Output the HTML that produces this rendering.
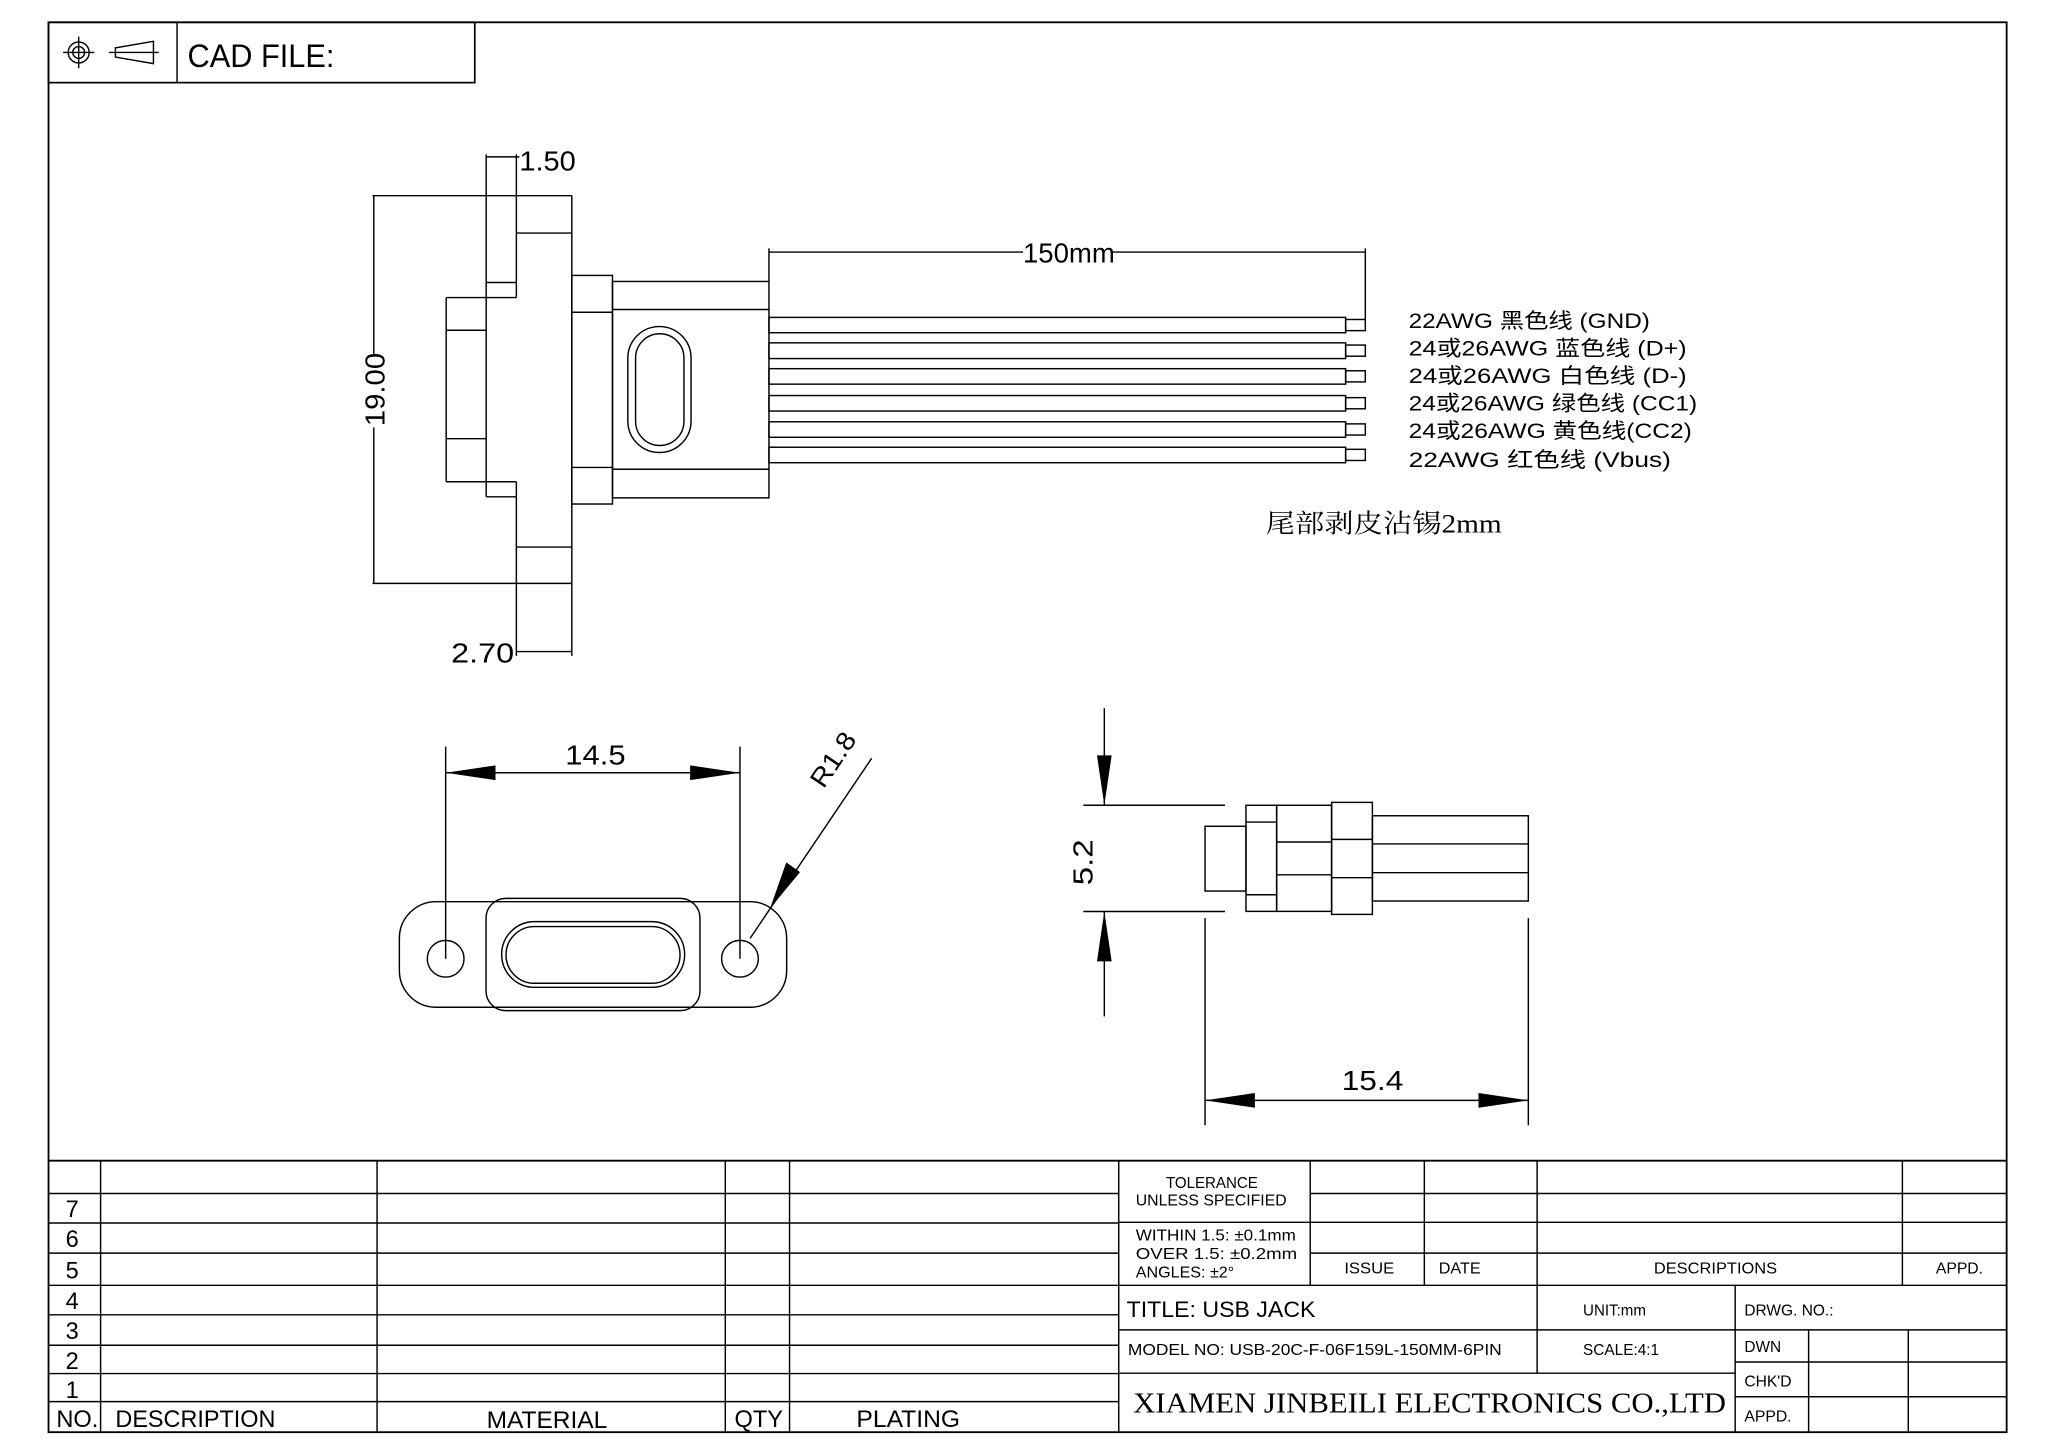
<!DOCTYPE html>
<html><head><meta charset="utf-8"><style>
html,body{margin:0;padding:0;background:#fff;}
svg{display:block;}
text{font-family:"Liberation Sans","Noto Sans CJK SC",sans-serif;fill:#000;}
</style></head><body>
<svg width="2046" height="1447" viewBox="0 0 1560 1103.3" preserveAspectRatio="none" xmlns="http://www.w3.org/2000/svg">
<g fill="none" stroke="#000" stroke-width="1.1">
<!-- border -->
<rect x="37" y="17" width="1493" height="1075" stroke-width="1.4"/>
<rect x="37" y="17" width="325" height="46" stroke-width="1.3"/>
<line x1="135" y1="17" x2="135" y2="63"/>
<!-- icons -->
<circle cx="60" cy="40" r="8"/><circle cx="60" cy="40" r="4.5"/>
<line x1="48" y1="40" x2="72" y2="40"/><line x1="60" y1="28" x2="60" y2="52"/>
<polygon points="88,36.5 117,31.5 117,48.5 88,43.5"/>
<line x1="83" y1="40" x2="121" y2="40"/>

<!-- side view flange -->
<line x1="284" y1="149.2" x2="436" y2="149.2"/>
<line x1="284" y1="444.8" x2="436" y2="444.8"/>
<line x1="436" y1="149.2" x2="436" y2="500.1"/>
<line x1="370.7" y1="117.7" x2="370.7" y2="378.8"/>
<line x1="393.7" y1="117.7" x2="393.7" y2="226.9"/>
<line x1="393.7" y1="367.3" x2="393.7" y2="500.1"/>
<line x1="370.7" y1="119.6" x2="396" y2="119.6"/>
<line x1="393.7" y1="177.7" x2="436" y2="177.7"/>
<line x1="370.7" y1="215.4" x2="393.7" y2="215.4"/>
<line x1="340.2" y1="226.9" x2="393.7" y2="226.9"/>
<line x1="340.2" y1="251.8" x2="370.7" y2="251.8"/>
<line x1="340.2" y1="334.5" x2="370.7" y2="334.5"/>
<line x1="340.2" y1="367.3" x2="393.7" y2="367.3"/>
<line x1="370.7" y1="378.8" x2="393.7" y2="378.8"/>
<line x1="393.7" y1="417.1" x2="436" y2="417.1"/>
<line x1="393.7" y1="496.8" x2="436" y2="496.8"/>
<line x1="340.2" y1="226.9" x2="340.2" y2="367.3"/>
<line x1="285" y1="149.2" x2="285" y2="270"/>
<line x1="285" y1="326" x2="285" y2="444.8"/>
<!-- blocks -->
<rect x="436" y="210" width="31" height="174.3"/>
<line x1="436" y1="238.1" x2="467" y2="238.1"/>
<line x1="436" y1="356.4" x2="467" y2="356.4"/>
<rect x="467" y="214.6" width="119.3" height="165"/>
<line x1="467" y1="236" x2="586.3" y2="236"/>
<line x1="467" y1="357.8" x2="586.3" y2="357.8"/>
<rect x="478.7" y="249" width="48.2" height="96" rx="24"/>
<rect x="484.6" y="254.5" width="36.9" height="85.2" rx="18.5"/>
<!-- wires -->
<rect x="586.3" y="242" width="439.7" height="11.7"/><rect x="1026" y="243.6" width="15" height="8.5"/>
<rect x="586.3" y="261.4" width="439.7" height="12"/><rect x="1026" y="263.1" width="15" height="8.5"/>
<rect x="586.3" y="281.1" width="439.7" height="11.8"/><rect x="1026" y="282.7" width="15" height="8.5"/>
<rect x="586.3" y="301.6" width="439.7" height="11.8"/><rect x="1026" y="303.2" width="15" height="8.5"/>
<rect x="586.3" y="321.6" width="439.7" height="11.8"/><rect x="1026" y="323.2" width="15" height="8.5"/>
<rect x="586.3" y="341" width="439.7" height="11.8"/><rect x="1026" y="342.6" width="15" height="8.5"/>
<!-- 150mm dim -->
<line x1="586.3" y1="192.2" x2="780" y2="192.2"/>
<line x1="848" y1="192.2" x2="1041" y2="192.2"/>
<line x1="586.3" y1="189.4" x2="586.3" y2="214.6"/>
<line x1="1041" y1="189.4" x2="1041" y2="245"/>

<!-- front view -->
<rect x="304.5" y="687.5" width="295.3" height="80.5" rx="28" fill="#fff"/>
<circle cx="339.8" cy="731" r="14"/><circle cx="564.2" cy="731" r="14"/>
<rect x="370.6" y="685" width="163.1" height="85.6" rx="15"/>
<rect x="382.5" y="702.7" width="139.5" height="50.1" rx="25"/>
<rect x="385.8" y="706.5" width="132.7" height="43.2" rx="21.6"/>
<line x1="339.8" y1="569.3" x2="339.8" y2="731"/>
<line x1="564.2" y1="569.3" x2="564.2" y2="731"/>
<line x1="339.8" y1="589.2" x2="564.2" y2="589.2"/>
<line x1="664.6" y1="578.2" x2="571.9" y2="715.5"/>

<!-- side small view -->
<rect x="918.8" y="630" width="31.2" height="49.4"/>
<rect x="950" y="614" width="23.4" height="80.9"/>
<line x1="950" y1="626.8" x2="973.4" y2="626.8"/><line x1="950" y1="682.2" x2="973.4" y2="682.2"/>
<rect x="973.4" y="614" width="41.9" height="80.9"/>
<line x1="973.4" y1="642" x2="1015.3" y2="642"/><line x1="973.4" y1="667" x2="1015.3" y2="667"/>
<rect x="1015.3" y="611.8" width="31.1" height="85.4"/>
<line x1="1015.3" y1="640" x2="1046.4" y2="640"/><line x1="1015.3" y1="669.2" x2="1046.4" y2="669.2"/>
<rect x="1046.4" y="622" width="118.9" height="65"/>
<line x1="1046.4" y1="643.5" x2="1165.3" y2="643.5"/><line x1="1046.4" y1="665.4" x2="1165.3" y2="665.4"/>
<!-- 5.2 dim -->
<line x1="826" y1="614" x2="934" y2="614"/>
<line x1="826" y1="695" x2="934" y2="695"/>
<line x1="842" y1="540" x2="842" y2="614"/>
<line x1="842" y1="695" x2="842" y2="775"/>
<!-- 15.4 dim -->
<line x1="918.8" y1="700" x2="918.8" y2="858"/>
<line x1="1165.3" y1="700" x2="1165.3" y2="858"/>
<line x1="918.8" y1="839" x2="1165.3" y2="839"/>

<!-- bottom table -->
<line x1="37" y1="885" x2="1530" y2="885" stroke-width="1.4"/>
<g>
<line x1="37" y1="910" x2="853" y2="910"/>
<line x1="37" y1="932.5" x2="853" y2="932.5"/>
<line x1="37" y1="955.5" x2="853" y2="955.5"/>
<line x1="37" y1="980" x2="853" y2="980"/>
<line x1="37" y1="1002.5" x2="853" y2="1002.5"/>
<line x1="37" y1="1025.7" x2="853" y2="1025.7"/>
<line x1="37" y1="1047.3" x2="853" y2="1047.3"/>
<line x1="37" y1="1068.7" x2="853" y2="1068.7"/>
<line x1="76.7" y1="885" x2="76.7" y2="1092"/>
<line x1="287.5" y1="885" x2="287.5" y2="1092"/>
<line x1="553" y1="885" x2="553" y2="1092"/>
<line x1="602" y1="885" x2="602" y2="1092"/>
<line x1="853" y1="885" x2="853" y2="1092"/>
</g>
<g>
<line x1="999" y1="910" x2="1530" y2="910"/>
<line x1="853" y1="932" x2="1530" y2="932"/>
<line x1="999" y1="955.5" x2="1530" y2="955.5"/>
<line x1="853" y1="980" x2="1530" y2="980"/>
<line x1="853" y1="1014" x2="1530" y2="1014"/>
<line x1="853" y1="1047" x2="1323" y2="1047"/>
<line x1="1323" y1="1038.5" x2="1530" y2="1038.5"/>
<line x1="1323" y1="1065" x2="1530" y2="1065"/>
<line x1="999" y1="885" x2="999" y2="980"/>
<line x1="1086" y1="885" x2="1086" y2="980"/>
<line x1="1172" y1="885" x2="1172" y2="1047"/>
<line x1="1450.5" y1="885" x2="1450.5" y2="980"/>
<line x1="1323" y1="980" x2="1323" y2="1092"/>
<line x1="1379" y1="1014" x2="1379" y2="1092"/>
<line x1="1455" y1="1014" x2="1455" y2="1092"/>
</g>
</g>
<!-- arrowheads -->
<g fill="#000">
<polygon points="339.8,589.2 377.8,583.6 377.8,594.8"/>
<polygon points="564.2,589.2 526.2,583.6 526.2,594.8"/>
<polygon points="587.2,692.5 599.5,657.5 610,665"/>
<polygon points="842,614 836.4,576 847.6,576"/>
<polygon points="842,695 836.4,733 847.6,733"/>
<polygon points="918.8,839 956.8,833.4 956.8,844.6"/>
<polygon points="1165.3,839 1127.3,833.4 1127.3,844.6"/>
</g>

<!-- text -->
<text x="143" y="51" font-size="25" textLength="112" lengthAdjust="spacingAndGlyphs">CAD  FILE:</text>
<text x="396" y="130" font-size="21" textLength="43" lengthAdjust="spacingAndGlyphs">1.50</text>
<text x="780" y="200" font-size="21" textLength="70" lengthAdjust="spacingAndGlyphs">150mm</text>
<text transform="translate(293,297) rotate(-90)" text-anchor="middle" font-size="21" textLength="56" lengthAdjust="spacingAndGlyphs">19.00</text>
<text x="344" y="505" font-size="21" textLength="48" lengthAdjust="spacingAndGlyphs">2.70</text>
<g font-size="16">
<text x="1074" y="250" textLength="184" lengthAdjust="spacingAndGlyphs">22AWG  黑色线 (GND)</text>
<text x="1074" y="271" textLength="212" lengthAdjust="spacingAndGlyphs">24或26AWG  蓝色线 (D+)</text>
<text x="1074" y="292" textLength="212" lengthAdjust="spacingAndGlyphs">24或26AWG  白色线 (D-)</text>
<text x="1074" y="313" textLength="220" lengthAdjust="spacingAndGlyphs">24或26AWG  绿色线 (CC1)</text>
<text x="1074" y="334" textLength="216" lengthAdjust="spacingAndGlyphs">24或26AWG  黄色线(CC2)</text>
<text x="1074" y="356" textLength="200" lengthAdjust="spacingAndGlyphs">22AWG  红色线 (Vbus)</text>
</g>
<text x="965" y="406" font-size="20" style="font-family:'Liberation Serif','Noto Serif CJK SC',serif" textLength="180" lengthAdjust="spacingAndGlyphs">尾部剥皮沾锡2mm</text>
<text x="431" y="583" font-size="21" textLength="46" lengthAdjust="spacingAndGlyphs">14.5</text>
<text transform="translate(628,602) rotate(-56)" font-size="20" textLength="46" lengthAdjust="spacingAndGlyphs">R1.8</text>
<text transform="translate(833,675) rotate(-90)" font-size="21" textLength="35" lengthAdjust="spacingAndGlyphs">5.2</text>
<text x="1023" y="831" font-size="21" textLength="47" lengthAdjust="spacingAndGlyphs">15.4</text>

<g font-size="18">
<text x="50" y="928">7</text><text x="50" y="951">6</text><text x="50" y="975">5</text>
<text x="50" y="998">4</text><text x="50" y="1021">3</text><text x="50" y="1044">2</text><text x="50" y="1066">1</text>
<text x="43" y="1088" textLength="32" lengthAdjust="spacingAndGlyphs">NO.</text>
<text x="88" y="1088" textLength="122" lengthAdjust="spacingAndGlyphs">DESCRIPTION</text>
<text x="371" y="1089" textLength="92" lengthAdjust="spacingAndGlyphs">MATERIAL</text>
<text x="560" y="1088" textLength="37" lengthAdjust="spacingAndGlyphs">QTY</text>
<text x="653" y="1088" textLength="79" lengthAdjust="spacingAndGlyphs">PLATING</text>
</g>
<g font-size="12">
<text x="889" y="906" textLength="70" lengthAdjust="spacingAndGlyphs">TOLERANCE</text>
<text x="866" y="919" textLength="115" lengthAdjust="spacingAndGlyphs">UNLESS  SPECIFIED</text>
<text x="866" y="946" textLength="122" lengthAdjust="spacingAndGlyphs">WITHIN  1.5: ±0.1mm</text>
<text x="866" y="960" textLength="123" lengthAdjust="spacingAndGlyphs">OVER  1.5:   ±0.2mm</text>
<text x="866" y="974" textLength="75" lengthAdjust="spacingAndGlyphs">ANGLES: ±2°</text>
<text x="1025" y="971" textLength="38" lengthAdjust="spacingAndGlyphs">ISSUE</text>
<text x="1097" y="971" textLength="32" lengthAdjust="spacingAndGlyphs">DATE</text>
<text x="1261" y="971" textLength="94" lengthAdjust="spacingAndGlyphs">DESCRIPTIONS</text>
<text x="1476" y="971" textLength="36" lengthAdjust="spacingAndGlyphs">APPD.</text>
<text x="1207" y="1003" textLength="48" lengthAdjust="spacingAndGlyphs">UNIT:mm</text>
<text x="1330" y="1003" textLength="68" lengthAdjust="spacingAndGlyphs">DRWG. NO.:</text>
<text x="860" y="1033" textLength="285" lengthAdjust="spacingAndGlyphs">MODEL NO: USB-20C-F-06F159L-150MM-6PIN</text>
<text x="1207" y="1033" textLength="58" lengthAdjust="spacingAndGlyphs">SCALE:4:1</text>
<text x="1330" y="1031" textLength="28" lengthAdjust="spacingAndGlyphs">DWN</text>
<text x="1330" y="1057" textLength="36" lengthAdjust="spacingAndGlyphs">CHK'D</text>
<text x="1330" y="1084" textLength="36" lengthAdjust="spacingAndGlyphs">APPD.</text>
</g>
<text x="859" y="1004" font-size="17" textLength="144" lengthAdjust="spacingAndGlyphs">TITLE:  USB  JACK</text>
<text x="864" y="1077" font-size="22" style="font-family:'Liberation Serif',serif" textLength="452" lengthAdjust="spacingAndGlyphs">XIAMEN JINBEILI ELECTRONICS CO.,LTD</text>
</svg>
</body></html>
